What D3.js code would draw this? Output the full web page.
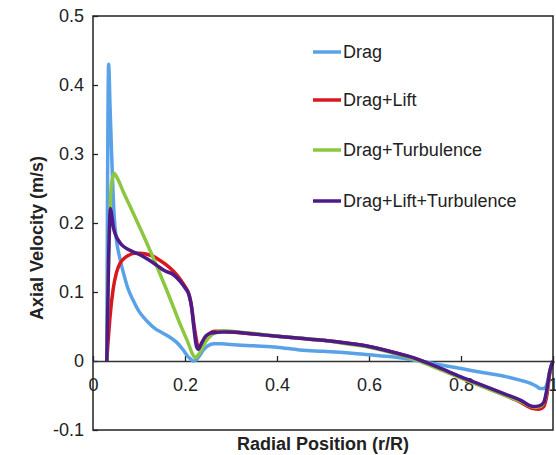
<!DOCTYPE html>
<html>
<head>
<meta charset="utf-8">
<script src="https://cdn.jsdelivr.net/npm/d3@7"></script>
<style>
  body { margin: 0; background: #fff; }
  svg text { font-family: Arial, "Liberation Sans", sans-serif; fill: #222; }
</style>
</head>
<body>
<svg id="chart"></svg>
<script>
// series names / colours
const seriesNames = ['Drag', 'Drag+Lift', 'Drag+Turbulence', 'Drag+Lift+Turbulence'];
const seriesColors = ['#5aa2e8', '#d7191f', '#8dc63f', '#4e1a8a'];

// tick labels
const xTicks = [0, 0.2, 0.4, 0.6, 0.8, 1];
const yTicks = [-0.1, 0, 0.1, 0.2, 0.3, 0.4, 0.5];

// Drag
const dragR = [0.030, 0.034, 0.037, 0.041, 0.046, 0.051, 0.058, 0.066, 0.076, 0.088, 0.100, 0.117, 0.135, 0.153, 0.168, 0.182, 0.195, 0.207, 0.212, 0.218, 0.225, 0.232, 0.240, 0.250, 0.262, 0.280, 0.30, 0.35, 0.40, 0.45, 0.50, 0.55, 0.60, 0.65, 0.70, 0.75, 0.80, 0.85, 0.90, 0.93, 0.95, 0.965, 0.972, 0.980, 0.987, 0.993, 1.0];
const dragV = [0, 0.43, 0.37, 0.29, 0.21, 0.175, 0.15, 0.128, 0.105, 0.087, 0.072, 0.058, 0.047, 0.040, 0.034, 0.027, 0.017, 0.006, 0.003, 0.0, 0.002, 0.008, 0.016, 0.022, 0.025, 0.025, 0.024, 0.022, 0.020, 0.016, 0.014, 0.012, 0.009, 0.006, 0.001, -0.005, -0.011, -0.017, -0.023, -0.028, -0.032, -0.037, -0.040, -0.040, -0.033, -0.015, 0.0];

// Drag+Lift
const liftR = [0.030, 0.033, 0.037, 0.044, 0.051, 0.059, 0.070, 0.080, 0.090, 0.102, 0.115, 0.130, 0.145, 0.160, 0.175, 0.190, 0.200, 0.209, 0.215, 0.220, 0.225, 0.229, 0.235, 0.245, 0.254, 0.265, 0.283, 0.30, 0.35, 0.40, 0.45, 0.50, 0.55, 0.60, 0.65, 0.70, 0.75, 0.80, 0.85, 0.90, 0.93, 0.957, 0.970, 0.980, 0.987, 0.993, 1.0];
const liftV = [0, 0.03, 0.064, 0.105, 0.128, 0.142, 0.150, 0.154, 0.156, 0.156, 0.155, 0.152, 0.146, 0.139, 0.130, 0.118, 0.108, 0.096, 0.075, 0.050, 0.030, 0.018, 0.022, 0.033, 0.040, 0.043, 0.043, 0.042, 0.039, 0.036, 0.033, 0.030, 0.026, 0.021, 0.013, 0.003, -0.010, -0.024, -0.037, -0.051, -0.060, -0.069, -0.070, -0.066, -0.048, -0.018, 0.0];

// Drag+Turbulence
const turbR = [0.030, 0.033, 0.037, 0.040, 0.046, 0.052, 0.066, 0.080, 0.098, 0.115, 0.128, 0.142, 0.157, 0.172, 0.186, 0.198, 0.207, 0.215, 0.222, 0.228, 0.237, 0.247, 0.258, 0.269, 0.283, 0.30, 0.35, 0.40, 0.45, 0.50, 0.55, 0.60, 0.65, 0.70, 0.75, 0.80, 0.85, 0.90, 0.93, 0.960, 0.972, 0.980, 0.987, 0.993, 1.0];
const turbV = [0, 0.12, 0.22, 0.255, 0.272, 0.266, 0.245, 0.225, 0.199, 0.174, 0.154, 0.132, 0.108, 0.083, 0.059, 0.040, 0.026, 0.012, 0.005, 0.008, 0.018, 0.030, 0.038, 0.042, 0.044, 0.043, 0.040, 0.036, 0.033, 0.030, 0.025, 0.020, 0.012, 0.002, -0.011, -0.025, -0.038, -0.051, -0.059, -0.067, -0.066, -0.060, -0.042, -0.015, 0.0];

// Drag+Lift+Turbulence
const bothR = [0.030, 0.034, 0.038, 0.041, 0.044, 0.049, 0.055, 0.063, 0.073, 0.085, 0.102, 0.120, 0.138, 0.155, 0.175, 0.190, 0.200, 0.209, 0.214, 0.219, 0.225, 0.229, 0.236, 0.245, 0.254, 0.262, 0.283, 0.30, 0.35, 0.40, 0.45, 0.50, 0.55, 0.60, 0.65, 0.70, 0.75, 0.80, 0.85, 0.90, 0.93, 0.957, 0.970, 0.980, 0.987, 0.993, 1.0];
const bothV = [0, 0.15, 0.221, 0.210, 0.195, 0.183, 0.175, 0.168, 0.163, 0.159, 0.154, 0.147, 0.139, 0.131, 0.125, 0.115, 0.106, 0.095, 0.080, 0.050, 0.021, 0.017, 0.026, 0.036, 0.040, 0.041, 0.042, 0.042, 0.039, 0.036, 0.033, 0.030, 0.026, 0.021, 0.013, 0.004, -0.009, -0.023, -0.036, -0.049, -0.057, -0.066, -0.065, -0.060, -0.040, -0.015, 0.0];

class LineChart{
    constructor(config, series){
        this.config = {
            parent: config.parent || '#chart',
            width: config.width || 556,
            height: config.height || 455,
            margin: config.margin || {top:16, right:3, bottom:25, left:93}
        };
        this.series = series;
        this.init();
    }

    init(){
        const m = this.config.margin;
        this.svg = d3.select(this.config.parent)
            .attr('width', this.config.width)
            .attr('height', this.config.height);

        this.inner_width = this.config.width - m.left - m.right;
        this.inner_height = this.config.height - m.top - m.bottom;

        this.chart = this.svg.append('g')
            .attr('transform', `translate(${m.left}, ${m.top})`);

        this.xscale = d3.scaleLinear().domain([0, 1]).range([0, this.inner_width]);
        this.yscale = d3.scaleLinear().domain([-0.1, 0.5]).range([this.inner_height, 0]);

        this.render();
    }

    render(){
        const x = this.xscale, y = this.yscale;
        const yfmt = v => v === 0 ? '0' : d3.format('.1f')(v).replace('\u2212', '-');
        const xfmt = v => (v === 0 || v === 1) ? String(v) : d3.format('.1f')(v);

        // y axis (ticks inward)
        const yaxis = this.chart.append('g')
            .call(d3.axisLeft(y).tickValues(yTicks).tickFormat(yfmt)
                .tickSizeInner(-5).tickSizeOuter(0).tickPadding(9));
        yaxis.select('.domain').remove();
        yaxis.selectAll('line').attr('stroke', '#222').attr('stroke-width', 1.3);
        yaxis.selectAll('text').attr('font-size', 18);

        // x axis at v = 0 (ticks upward)
        const xaxis = this.chart.append('g')
            .attr('transform', `translate(0, ${y(0)})`)
            .call(d3.axisBottom(x).tickValues(xTicks).tickFormat(xfmt)
                .tickSizeInner(-5).tickSizeOuter(0).tickPadding(17));
        xaxis.select('.domain').attr('stroke', '#333').attr('stroke-width', 1.4);
        xaxis.selectAll('line').attr('stroke', '#222').attr('stroke-width', 1.3);
        xaxis.selectAll('text').attr('font-size', 18);

        // lines
        const line = d3.line()
            .x(d => x(d[0]))
            .y(d => y(d[1]))
            .curve(d3.curveMonotoneX);

        this.chart.selectAll('.series')
            .data(this.series)
            .join('path')
            .attr('class', 'series')
            .attr('fill', 'none')
            .attr('stroke', d => d.color)
            .attr('stroke-width', 3.5)
            .attr('stroke-linejoin', 'round')
            .attr('d', d => line(d.r.map((r, i) => [r, d.v[i]])));

        // frame
        this.chart.append('rect')
            .attr('x', 0).attr('y', 0)
            .attr('width', this.inner_width)
            .attr('height', this.inner_height)
            .attr('fill', 'none')
            .attr('stroke', '#222')
            .attr('stroke-width', 1.5);

        // legend
        const legend = this.svg.append('g');
        const rows = [52, 100, 150, 201];
        this.series.forEach((s, i) => {
            legend.append('line')
                .attr('x1', 313).attr('x2', 341)
                .attr('y1', rows[i]).attr('y2', rows[i])
                .attr('stroke', s.color).attr('stroke-width', 3.5);
            legend.append('text')
                .attr('x', 343).attr('y', rows[i])
                .attr('dy', '0.35em')
                .attr('font-size', 18)
                .text(s.name);
        });

        // axis titles
        this.svg.append('text')
            .attr('text-anchor', 'middle')
            .attr('transform', `translate(43, 238) rotate(-90)`)
            .attr('font-weight', 'bold')
            .attr('font-size', 18)
            .text('Axial Velocity (m/s)');

        this.svg.append('text')
            .attr('text-anchor', 'middle')
            .attr('x', 323).attr('y', 450)
            .attr('font-weight', 'bold')
            .attr('font-size', 18)
            .text('Radial Position (r/R)');
    }
}

const series = [
    {name: seriesNames[0], color: seriesColors[0], r: dragR, v: dragV},
    {name: seriesNames[1], color: seriesColors[1], r: liftR, v: liftV},
    {name: seriesNames[2], color: seriesColors[2], r: turbR, v: turbV},
    {name: seriesNames[3], color: seriesColors[3], r: bothR, v: bothV}
];

new LineChart({parent: '#chart'}, series);
</script>
</body>
</html>
